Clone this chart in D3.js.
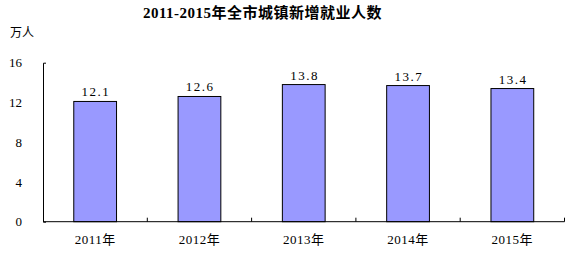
<!DOCTYPE html>
<html><head><meta charset="utf-8">
<script src="https://cdn.jsdelivr.net/npm/d3@7"></script>
<style>body{margin:0;background:#fff}</style>
</head><body>
<script>
const title = "2011-2015年全市城镇新增就业人数";
const unit = "万人";
const categories = ["2011年","2012年","2013年","2014年","2015年"];
const values = [12.1, 12.6, 13.8, 13.7, 13.4];
const valueLabels = ["12.1","12.6","13.8","13.7","13.4"];
const yTicks = [0, 4, 8, 12, 16];

const W = 571, H = 254;
const m = {left: 43, right: 6.5, top: 62.7, bottom: 32.3};
const svg = d3.select("body").append("svg").attr("width", W).attr("height", H);
const font = "'Liberation Serif','DejaVu Serif',serif";
const cjk = "'Noto Sans CJK SC',sans-serif";

const x = d3.scaleBand().domain(categories).range([m.left, W - m.right]).paddingInner(0.59).paddingOuter(0.295);
const y = d3.scaleLinear().domain([0, 16]).range([H - m.bottom, m.top]);

svg.append("text").attr("x", 262.5).attr("y", 18).attr("text-anchor", "middle")
  .attr("font-family", "'Liberation Serif','Noto Sans CJK SC',serif").attr("font-weight", "bold").attr("font-size", 15)
  .attr("letter-spacing", 0.5)
  .text(title);
svg.append("text").attr("x", 10).attr("y", 37).attr("font-family", cjk).attr("font-size", 12).text(unit);

// bars
svg.selectAll("rect.bar").data(values).join("rect")
  .attr("x", (d, i) => x(categories[i]))
  .attr("y", d => y(d))
  .attr("width", x.bandwidth())
  .attr("height", d => y(0) - y(d))
  .attr("fill", "#9999FF").attr("stroke", "#000").attr("stroke-width", 1);

svg.selectAll("text.vl").data(values).join("text")
  .attr("x", (d, i) => x(categories[i]) + x.bandwidth() / 2 + 0.75)
  .attr("y", d => y(d) - 5)
  .attr("text-anchor", "middle").attr("font-family", font).attr("font-size", 13)
  .attr("letter-spacing", 1.5)
  .text((d, i) => valueLabels[i]);

// y axis
const ya = svg.append("g").attr("transform", `translate(${m.left},0)`)
  .call(d3.axisLeft(y).tickValues(yTicks).tickSize(0).tickSizeOuter(-3).tickPadding(21));
ya.select(".domain").attr("stroke", "#000");
ya.selectAll("text").attr("font-family", font).attr("font-size", 13).attr("fill", "#000").attr("text-anchor", "end");

// x axis
const bounds = [0,1,2,3,4].map(i => m.left + (W - m.right - m.left) * (i + 1) / 5);
const xg = svg.append("g");
xg.append("line").attr("x1", m.left).attr("x2", W - m.right).attr("y1", y(0)).attr("y2", y(0)).attr("stroke", "#000");
xg.selectAll("line.t").data(bounds).join("line")
  .attr("x1", d => d).attr("x2", d => d).attr("y1", y(0)).attr("y2", y(0) - 4).attr("stroke", "#000");
xg.selectAll("text").data(categories).join("text")
  .attr("x", d => x(d) + x.bandwidth() / 2).attr("y", 244)
  .attr("text-anchor", "middle").attr("font-family", "'Liberation Serif','Noto Sans CJK SC',serif").attr("font-size", 13)
  .attr("letter-spacing", 0.5)
  .text(d => d);
</script>
</body></html>
